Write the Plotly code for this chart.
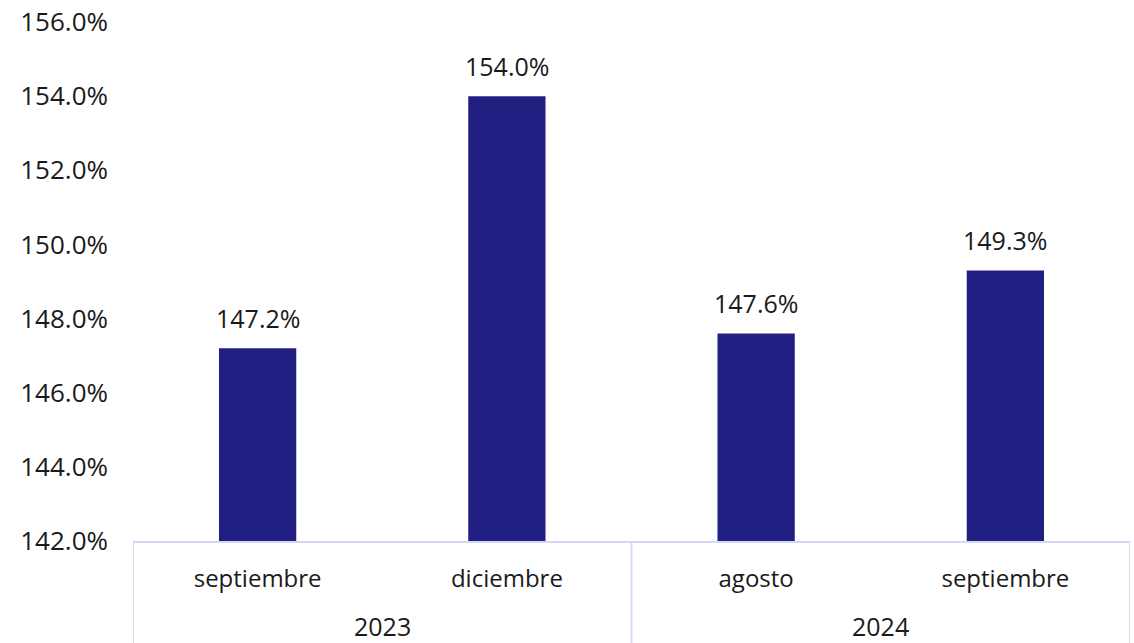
import plotly.graph_objects as go

years = ["2023", "2024"]
year_groups = [[0, 1], [2, 3]]
months = ["septiembre", "diciembre", "agosto", "septiembre"]
values = [147.2, 154.0, 147.6, 149.3]
y_ticks = [142, 144, 146, 148, 150, 152, 154, 156]

bar_color = "#221F82"
line_color = "#D6D6F5"
text_color = "#1a1a1a"
font_family = "Open Sans, Lato, sans-serif"

positions = list(range(len(values)))

fig = go.Figure(
    go.Bar(
        x=positions,
        y=values,
        marker=dict(color=bar_color, line=dict(width=0)),
        width=0.31,
        hoverinfo="skip",
    )
)

# value labels above each bar
for x, v in zip(positions, values):
    fig.add_annotation(
        x=x, y=v, xref="x", yref="y",
        text=f"{v:.1f}%", showarrow=False,
        yanchor="bottom", yshift=11,
        font=dict(size=25, color=text_color, family=font_family),
    )

# year labels under each group of months
for label, grp in zip(years, year_groups):
    fig.add_annotation(
        x=sum(grp) / len(grp), y=0, xref="x", yref="paper",
        text=label, showarrow=False, borderpad=0,
        yanchor="middle", yshift=-85,
        font=dict(size=25, color=text_color, family=font_family),
    )

# group dividers running from the axis to the bottom edge
edges = [grp[0] - 0.5 for grp in year_groups] + [year_groups[-1][-1] + 0.5]
for xe in edges:
    fig.add_shape(
        type="line", xref="x", yref="paper",
        x0=xe, x1=xe, y0=0, y1=-0.25,
        line=dict(color=line_color, width=2),
    )

fig.update_layout(
    width=1134,
    height=643,
    margin=dict(l=133, r=4, t=22, b=102),
    plot_bgcolor="white",
    paper_bgcolor="white",
    font=dict(family=font_family, size=24, color=text_color),
    showlegend=False,
)

fig.update_yaxes(
    range=[142, 156],
    tickvals=y_ticks,
    ticktext=[f"{t:.1f}%" for t in y_ticks],
    tickfont=dict(size=26),
    showgrid=False,
    zeroline=False,
    showline=False,
    ticks="",
    ticklabelstandoff=24,
)

fig.update_xaxes(
    range=[-0.5, 3.5],
    tickvals=positions,
    ticktext=months,
    tickfont=dict(size=24),
    showline=True,
    linecolor=line_color,
    linewidth=2,
    ticks="",
    showgrid=False,
    zeroline=False,
    ticklabelstandoff=15,
)

fig.write_html("out.html")
